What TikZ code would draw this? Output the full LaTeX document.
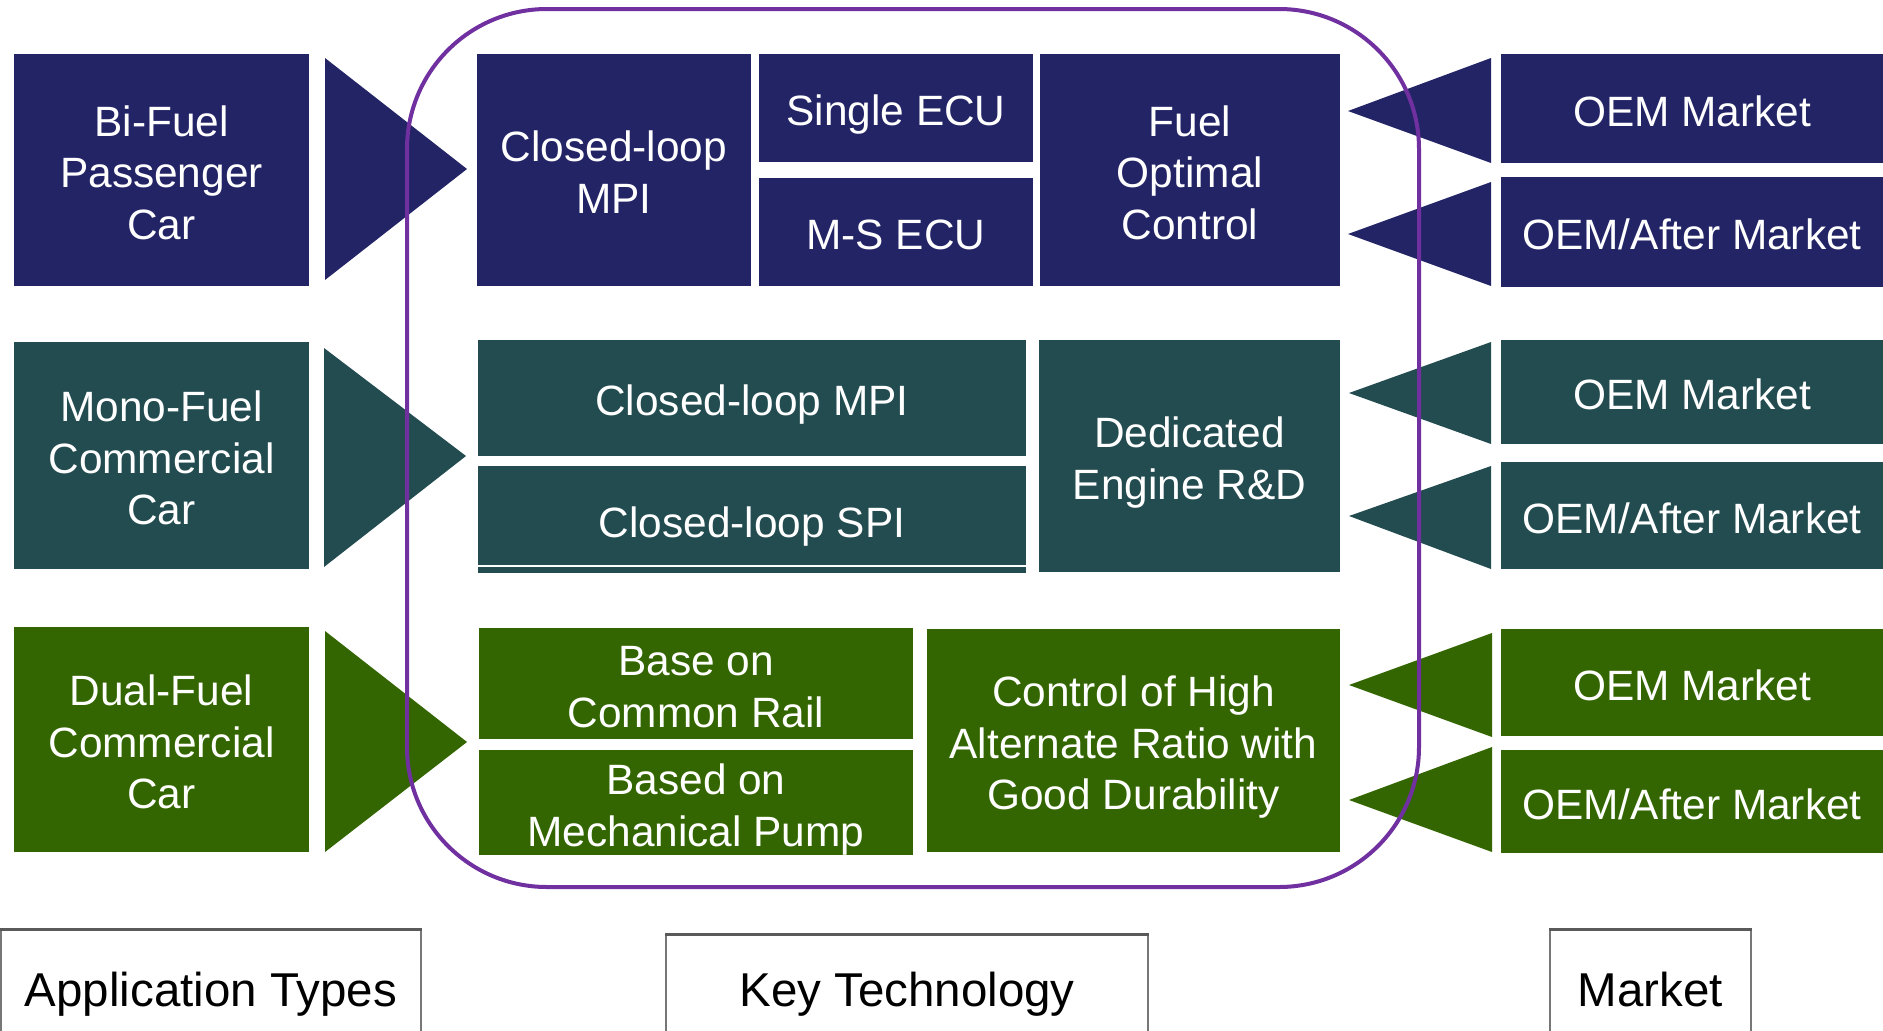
\documentclass[tikz,border=0pt]{standalone}
\usepackage{fontspec}
\setmainfont{Liberation Sans}
\definecolor{navy}{HTML}{232466}
\definecolor{tealc}{HTML}{234C50}
\definecolor{greenc}{HTML}{336600}
\definecolor{purp}{HTML}{7030A0}
\definecolor{edgegray}{HTML}{777777}
\definecolor{topgray}{HTML}{5A5A5A}
\tikzset{
  box/.style={anchor=north west, inner sep=0pt, outer sep=0pt, text=white,
    align=center, font=\fontsize{42.4}{51.6}\selectfont},
  lab/.style={draw=edgegray, line width=1.5pt, fill=white, inner sep=0pt,
    text=black, font=\fontsize{47.5}{57}\selectfont},
  toprule/.style={draw=topgray, line width=2.5pt},
  frame/.style={draw=purp, line width=4pt, rounded corners=140pt},
}
\newcommand\topstrut{\rule{0pt}{44.4pt}}
\newcommand\botstrut{\rule[-9pt]{0pt}{9pt}}
\newcommand\labtext[1]{\rule{0pt}{50pt}#1\rule[-10.1pt]{0pt}{10.1pt}}
\newcommand\mybox[7]{\node[box, fill=#2, minimum width={(#5)-(#3)}, minimum height={(#6)-(#4)}] (#1) at (#3,#4) {\topstrut #7\botstrut};}
\begin{document}
\begin{tikzpicture}[x=1pt,y=-1pt]
\useasboundingbox (0,0) rectangle (1883,1031);
% Row 1
\mybox{a1}{navy}{14}{54}{309}{286}{Bi-Fuel\\Passenger\\Car}
\mybox{k1a}{navy}{477}{54}{751}{286}{Closed-loop\\MPI}
\mybox{k1b}{navy}{759}{54}{1033}{162}{Single ECU}
\mybox{k1c}{navy}{759}{178}{1033}{286}{M-S ECU}
\mybox{k1d}{navy}{1040}{54}{1340}{286}{Fuel\\Optimal\\Control}
\mybox{m1a}{navy}{1501}{54}{1883}{163}{OEM Market}
\mybox{m1b}{navy}{1501}{177}{1883}{287}{OEM/After Market}
% Row 2
\mybox{a2}{tealc}{14}{342}{309}{569}{Mono-Fuel\\Commercial\\Car}
\mybox{k2a}{tealc}{478}{340}{1026}{456}{Closed-loop MPI}
\mybox{k2b}{tealc}{478}{466}{1026}{573}{Closed-loop SPI}
\mybox{k2c}{tealc}{1039}{340}{1340}{572}{Dedicated\\Engine R\&D}
\mybox{m2a}{tealc}{1501}{340}{1883}{444}{OEM Market}
\mybox{m2b}{tealc}{1501}{462}{1883}{569}{OEM/After Market}
\draw[white, line width=1.5pt] (478,566) -- (1026,566);
% Row 3
\mybox{a3}{greenc}{14}{627}{309}{852}{Dual-Fuel\\Commercial\\Car}
\mybox{k3a}{greenc}{479}{628}{913}{739}{Base on\\Common Rail}
\mybox{k3b}{greenc}{479}{750}{913}{852}{Based on\\Mechanical Pump}
\mybox{k3c}{greenc}{927}{629}{1340}{852}{Control of High\\Alternate Ratio with\\Good Durability}
\mybox{m3a}{greenc}{1501}{629}{1883}{736}{OEM Market}
\mybox{m3b}{greenc}{1501}{750}{1883}{853}{OEM/After Market}
% Arrows toward technology
\fill[navy]   (325,58)  -- (325,280) -- (467,169) -- cycle;
\fill[tealc]  (324,348) -- (324,567) -- (466,456) -- cycle;
\fill[greenc] (325,631) -- (325,852) -- (467,742) -- cycle;
% Arrows from market
\fill[navy]   (1491,58)  -- (1491,163) -- (1348,111) -- cycle;
\fill[navy]   (1491,182) -- (1491,286) -- (1348,234) -- cycle;
\fill[tealc]  (1491,342) -- (1491,444) -- (1349,393) -- cycle;
\fill[tealc]  (1491,466) -- (1491,569) -- (1349,516) -- cycle;
\fill[greenc] (1492,633) -- (1492,737) -- (1349,685) -- cycle;
\fill[greenc] (1492,747) -- (1492,852) -- (1349,800) -- cycle;
% Key technology frame
\draw[frame] (407,9) rectangle (1419,887);
% Bottom labels
\node[lab, minimum width=420, minimum height=114] (app) at (211,987) {\labtext{Application Types}};
\node[lab, minimum width=482, minimum height=104] (key) at (907,987) {\labtext{Key Technology}};
\node[lab, minimum width=201, minimum height=114] (mkt) at (1650.5,987) {\labtext{Market}};
\draw[toprule] (app.north west) -- (app.north east);
\draw[toprule] (key.north west) -- (key.north east);
\draw[toprule] (mkt.north west) -- (mkt.north east);
\end{tikzpicture}
\end{document}
